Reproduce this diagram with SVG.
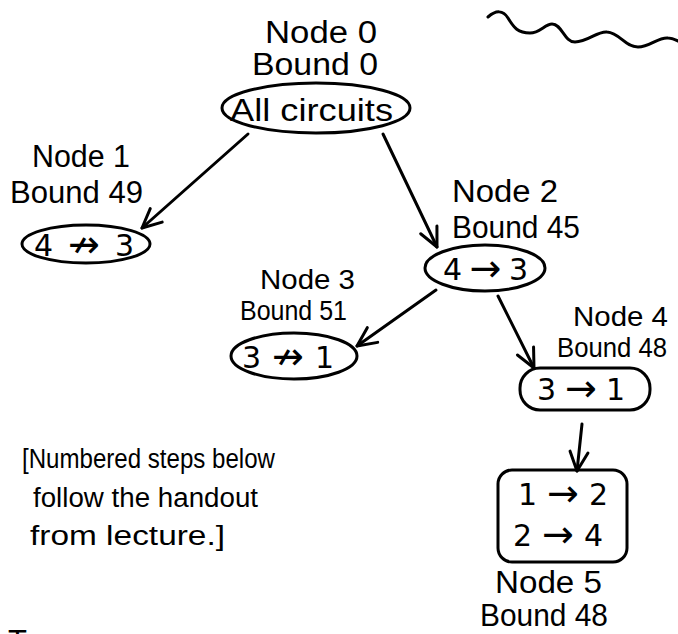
<svg xmlns="http://www.w3.org/2000/svg" width="678" height="634" viewBox="0 0 678 634">
  <style>
    .ink { fill: none; stroke: #000; stroke-width: 3; stroke-linecap: round; stroke-linejoin: round; }
    .lbl { font-family: "Liberation Sans", "DejaVu Sans", sans-serif; fill: #000; font-size: 31px; }
    .sm { font-size: 28px; }
    .edge { font-family: "DejaVu Sans", "Liberation Sans", sans-serif; fill: #000; font-size: 30px; }
    .arr { font-size: 38px; }
    .note { font-family: "Liberation Sans", "DejaVu Sans", sans-serif; fill: #000; font-size: 27px; }
  </style>
  <defs>
    <marker id="vhead" viewBox="0 0 24 24" refX="22" refY="12" markerWidth="24" markerHeight="24" markerUnits="userSpaceOnUse" orient="auto">
      <path d="M3,3 L22,12 L3,21" fill="none" stroke="#000" stroke-width="3" stroke-linecap="round" stroke-linejoin="round"/>
    </marker>
  </defs>
  <rect width="678" height="634" fill="#fff"/>

  <!-- wavy stroke at the top right -->
  <path class="ink" d="M488,17 C496,10 503,10 508,18 C514,28 518,33 530,33 C540,33 545,24 552,24 C562,24 564,42 575,42 C588,42 597,31 607,32 C620,33 625,47 638,47 C650,47 658,37 668,38 C673,38 676,40 680,42"/>

  <!-- tree edges -->
  <g id="connectors">
    <path class="ink" d="M248,134 L142,228" marker-end="url(#vhead)"/>
    <path class="ink" d="M383,134 L437,247" marker-end="url(#vhead)"/>
    <path class="ink" d="M436,290 L357,346" marker-end="url(#vhead)"/>
    <path class="ink" d="M498,296 L534,368" marker-end="url(#vhead)"/>
    <path class="ink" d="M582,424 L577,471" marker-end="url(#vhead)"/>
  </g>

  <g id="node0">
    <text class="lbl" x="265" y="43" textLength="112" lengthAdjust="spacingAndGlyphs">Node 0</text>
    <text class="lbl" x="252" y="75" textLength="126" lengthAdjust="spacingAndGlyphs">Bound 0</text>
    <ellipse class="ink" cx="316" cy="108" rx="94" ry="25"/>
    <text class="lbl" x="230" y="121" textLength="163" lengthAdjust="spacingAndGlyphs">All circuits</text>
  </g>

  <g id="node1">
    <text class="lbl" x="32" y="167" textLength="98" lengthAdjust="spacingAndGlyphs">Node 1</text>
    <text class="lbl" x="10" y="203" textLength="133" lengthAdjust="spacingAndGlyphs">Bound 49</text>
    <ellipse class="ink" cx="86" cy="244" rx="64" ry="19"/>
    <text class="edge" x="34" y="256" textLength="100" lengthAdjust="spacing">4<tspan class="arr" dy="1">↛</tspan><tspan dy="-1">3</tspan></text>
  </g>

  <g id="node2">
    <text class="lbl" x="452" y="202" textLength="106" lengthAdjust="spacingAndGlyphs">Node 2</text>
    <text class="lbl" x="452" y="238" textLength="128" lengthAdjust="spacingAndGlyphs">Bound 45</text>
    <ellipse class="ink" cx="485" cy="268" rx="60" ry="23"/>
    <text class="edge" x="443" y="280" textLength="85" lengthAdjust="spacing">4<tspan class="arr" dy="1">→</tspan><tspan dy="-1">3</tspan></text>
  </g>

  <g id="node3">
    <text class="lbl sm" x="260" y="289" textLength="95" lengthAdjust="spacingAndGlyphs">Node 3</text>
    <text class="lbl sm" x="240" y="320" textLength="107" lengthAdjust="spacingAndGlyphs">Bound 51</text>
    <ellipse class="ink" cx="294" cy="356" rx="63" ry="23"/>
    <text class="edge" x="242" y="368" textLength="92" lengthAdjust="spacing">3<tspan class="arr" dy="1">↛</tspan><tspan dy="-1">1</tspan></text>
  </g>

  <g id="node4">
    <text class="lbl sm" x="573" y="326" textLength="95" lengthAdjust="spacingAndGlyphs">Node 4</text>
    <text class="lbl sm" x="557" y="357" textLength="110" lengthAdjust="spacingAndGlyphs">Bound 48</text>
    <rect class="ink" x="520" y="368" width="130" height="42" rx="20"/>
    <text class="edge" x="537" y="400" textLength="88" lengthAdjust="spacing">3<tspan class="arr" dy="1">→</tspan><tspan dy="-1">1</tspan></text>
  </g>

  <g id="node5">
    <rect class="ink" x="498" y="470" width="129" height="92" rx="14"/>
    <text class="edge" x="518" y="505" textLength="90" lengthAdjust="spacing">1<tspan class="arr" dy="1">→</tspan><tspan dy="-1">2</tspan></text>
    <text class="edge" x="513" y="546" textLength="90" lengthAdjust="spacing">2<tspan class="arr" dy="1">→</tspan><tspan dy="-1">4</tspan></text>
    <text class="lbl" x="495" y="593" textLength="107" lengthAdjust="spacingAndGlyphs">Node 5</text>
    <text class="lbl" x="480" y="626" textLength="128" lengthAdjust="spacingAndGlyphs">Bound 48</text>
  </g>

  <g id="note">
    <text class="note" x="22" y="468" textLength="253" lengthAdjust="spacingAndGlyphs">[Numbered steps below</text>
    <text class="note" x="33" y="507" textLength="225" lengthAdjust="spacingAndGlyphs">follow the handout</text>
    <text class="note" x="30" y="545" textLength="195" lengthAdjust="spacingAndGlyphs">from lecture.]</text>
  </g>

  <!-- line of text cut off at the bottom edge -->
  <text class="lbl" x="8" y="652">T</text>
</svg>
